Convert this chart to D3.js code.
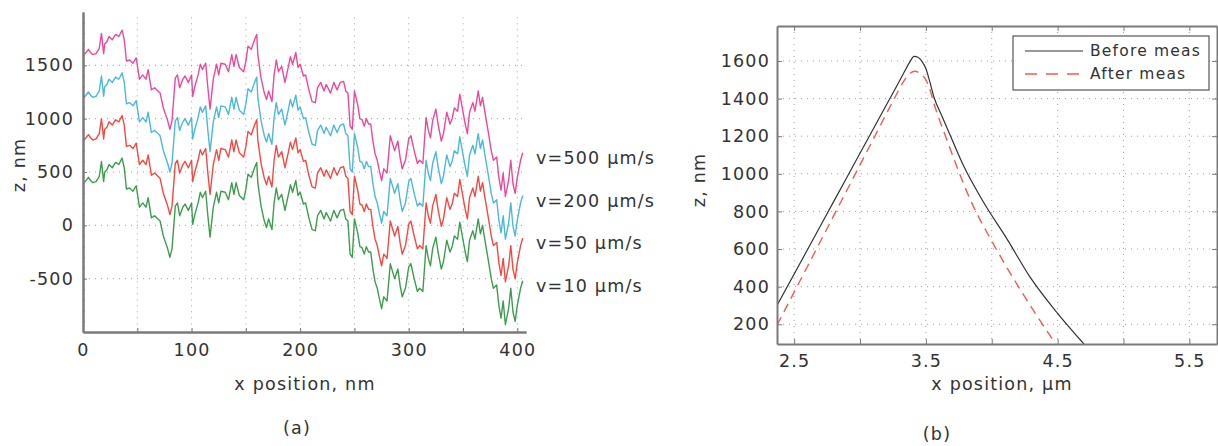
<!DOCTYPE html>
<html>
<head>
<meta charset="utf-8">
<script src="https://cdn.jsdelivr.net/npm/d3@7"></script>
<style>
  body { margin: 0; background: #fff; }
  text { font-family: "DejaVu Sans", sans-serif; fill: #333; letter-spacing: 1.2px; }
</style>
</head>
<body>
<div id="my_dataviz"></div>
<script>

// ---- panel (a): surface profiles, x in nm, z in nm ----
var xNm = [0,2,5,7,9,12,15,17,19,20,22,24,27,30,33,36,38,40,43,46,49,52,55,58,60,63,66,69,71,74,76,78,80,82,85,87,89,92,94,97,
  100,101,103,106,108,110,113,115,117,120,123,125,127,131,134,137,139,141,144,148,150,152,155,158,160,161,164,167,169,171,
  174,176,178,180,183,186,189,191,193,196,198,200,203,205,208,211,214,216,219,222,224,228,231,234,237,240,242,244,246,248,
  250,253,255,257,259,261,263,265,267,269,271,273,275,277,280,283,287,290,292,294,297,300,302,305,308,310,313,316,318,320,
  322,325,327,330,332,335,338,340,342,345,347,349,352,354,356,359,361,364,366,368,370,373,376,378,381,383,385,387,389,392,
  394,396,398,400,403,405];

var z500 = [1610,1610,1650,1620,1600,1610,1660,1800,1610,1700,1720,1770,1740,1790,1770,1830,1740,1540,1550,1520,
  1570,1370,1410,1370,1460,1270,1290,1260,1240,1100,1040,980,900,980,1380,1410,1290,1370,1400,1340,
  1410,1210,1300,1410,1510,1460,1520,1290,1090,1370,1510,1410,1520,1510,1440,1600,1490,1600,1480,1440,
  1540,1680,1650,1740,1790,1600,1380,1240,1180,1260,1160,1410,1550,1440,1490,1340,1480,1580,1510,1620,
  1480,1510,1400,1410,1270,1160,1150,1290,1340,1260,1320,1240,1340,1270,1340,1350,1260,1240,930,900,
  1260,1130,1000,990,930,1000,950,950,790,670,610,510,420,530,490,840,700,790,640,530,
  610,810,840,700,580,610,580,1010,890,820,980,1090,950,790,860,1060,950,1000,1100,1070,
  1230,1120,950,860,1060,1150,1070,1260,1120,1200,1070,890,700,610,640,450,330,490,270,420,
  610,390,300,450,610,680];

var z200 = [1210,1210,1250,1220,1200,1210,1260,1400,1210,1300,1320,1370,1340,1390,1370,1430,1340,1140,1150,1120,
  1170,970,1010,970,1060,870,890,860,840,700,640,580,500,580,980,1010,890,970,1000,940,
  1010,810,900,1010,1110,1060,1120,890,690,970,1110,1010,1120,1110,1040,1200,1090,1200,1080,1040,
  1140,1280,1250,1340,1390,1200,980,840,780,860,760,1010,1150,1040,1090,940,1080,1180,1110,1220,
  1080,1110,1000,1010,870,760,750,890,940,860,920,840,940,870,940,950,860,840,530,500,
  860,730,600,590,530,600,550,550,390,270,210,110,20,130,90,440,300,390,240,130,
  210,410,440,300,180,210,180,610,490,420,580,690,550,390,460,660,550,600,700,670,
  830,720,550,460,660,750,670,860,720,800,670,490,300,210,240,50,-70,90,-130,20,
  210,-10,-100,50,210,280];

var z50 = [810,810,850,820,800,810,860,1000,810,900,920,970,940,990,970,1030,940,740,750,720,
  770,570,610,570,660,470,490,460,440,300,240,180,100,180,580,610,490,570,600,540,
  610,410,500,610,710,660,720,490,290,570,710,610,720,710,640,800,690,800,680,640,
  740,880,850,940,990,800,580,440,380,460,360,610,750,640,690,540,680,780,710,820,
  680,710,600,610,470,360,350,490,540,460,520,440,540,470,540,550,460,440,130,100,
  460,330,200,190,130,200,150,150,-10,-130,-190,-290,-380,-270,-310,40,-100,-10,-160,-270,
  -190,10,40,-100,-220,-190,-220,210,90,20,180,290,150,-10,60,260,150,200,300,270,
  430,320,150,60,260,350,270,460,320,400,270,90,-100,-190,-160,-350,-470,-310,-530,-380,
  -190,-410,-500,-350,-190,-120];

var z10 = [410,410,450,420,400,410,460,600,410,500,520,570,540,590,570,630,540,340,350,320,
  370,170,210,170,260,70,90,60,40,-100,-160,-220,-300,-220,180,210,90,170,200,140,
  210,10,100,210,310,260,320,90,-110,170,310,210,320,310,240,400,290,400,280,240,
  340,480,450,540,590,400,180,40,-20,60,-40,210,350,240,290,140,280,380,310,420,
  280,310,200,210,70,-40,-50,90,140,60,120,40,140,70,140,150,60,40,-270,-300,
  60,-70,-200,-210,-270,-200,-250,-250,-410,-530,-590,-690,-780,-670,-710,-360,-500,-410,-560,-670,
  -590,-390,-360,-500,-620,-590,-620,-190,-310,-380,-220,-110,-250,-410,-340,-140,-250,-200,-100,-130,
  30,-80,-250,-340,-140,-50,-130,60,-80,0,-130,-310,-500,-590,-560,-750,-870,-710,-930,-780,
  -590,-810,-900,-750,-590,-520];

var speedLabels = ["v=500 \u00b5m/s", "v=200 \u00b5m/s", "v=50 \u00b5m/s", "v=10 \u00b5m/s"];
var speedColors = ["#ea4a9c", "#4cb8dc", "#f24a43", "#3d9d4f"];
var aYTicks = [-500, 0, 500, 1000, 1500];
var aXTicks = [0, 100, 200, 300, 400];

// ---- panel (b): tip profile before / after, x in um ----
var beforeX = [2.37, 2.6, 2.8, 3.0, 3.2, 3.32, 3.38, 3.41, 3.44, 3.47, 3.5, 3.53, 3.56, 3.62, 3.7, 3.79, 3.93, 4.12, 4.29, 4.5, 4.7];
var beforeZ = [300, 595, 852, 1109, 1366, 1520, 1597, 1625, 1620, 1598, 1560, 1490, 1411, 1310, 1180, 1037, 858, 649, 452, 258, 95];
var afterX = [2.37, 2.6, 2.86, 3.1, 3.25, 3.33, 3.38, 3.42, 3.46, 3.5, 3.53, 3.56, 3.66, 3.84, 4.01, 4.22, 4.48];
var afterZ = [195, 506, 858, 1183, 1386, 1490, 1535, 1545, 1530, 1500, 1450, 1377, 1180, 858, 630, 380, 100];
var bYTicks = [200, 400, 600, 800, 1000, 1200, 1400, 1600];
var bXTicks = [2.5, 3.5, 4.5, 5.5];
var bXGrid = [2.5, 3, 3.5, 4, 4.5, 5, 5.5];
var legendNames = ["Before meas", "After meas"];

var svg = d3.select("#my_dataviz")
  .append("svg")
  .attr("width", 1218)
  .attr("height", 446);

var gridColor = "#a0a0a0";
var axisColor = "#7a7a7a";
var plain = function(d) { return String(d); };

// ================= panel (a) =================
var xa = d3.scaleLinear().domain([0, 408]).range([83, 526]);
var ya = d3.scaleLinear().domain([-1000, 2000]).range([332, 12]);

var ga = svg.append("g");

// dotted grid
ga.selectAll(".vgrid")
  .data(d3.range(50, 401, 50))
  .enter().append("line")
  .attr("x1", d => xa(d)).attr("x2", d => xa(d))
  .attr("y1", ya(1950)).attr("y2", ya(-1000))
  .attr("stroke", gridColor).attr("stroke-dasharray", "1,5");

ga.selectAll(".hgrid")
  .data(aYTicks)
  .enter().append("line")
  .attr("x1", xa(0)).attr("x2", xa(408))
  .attr("y1", d => ya(d)).attr("y2", d => ya(d))
  .attr("stroke", gridColor).attr("stroke-dasharray", "1,5");

// profiles
var profiles = [z500, z200, z50, z10];
var lineA = d3.line()
  .x(function(d, i) { return xa(xNm[i]); })
  .y(function(d) { return ya(d); });

ga.selectAll(".profile")
  .data(profiles)
  .enter().append("path")
  .attr("d", d => lineA(d))
  .attr("fill", "none")
  .attr("stroke", (d, i) => speedColors[i])
  .attr("stroke-width", 1.4)
  .attr("stroke-linejoin", "round");

// series labels next to the line ends
ga.selectAll(".speed")
  .data(profiles)
  .enter().append("text")
  .attr("x", xa(408) + 10)
  .attr("y", d => ya(d[d.length - 1]) + 5)
  .attr("dy", "0.35em")
  .attr("font-size", "17.5px")
  .text((d, i) => speedLabels[i]);

// axes
ga.append("g")
  .attr("transform", "translate(" + xa(0) + ",0)")
  .call(d3.axisLeft(ya).tickValues(aYTicks).tickSize(-4).tickSizeOuter(0).tickPadding(9).tickFormat(plain));
ga.append("g")
  .attr("transform", "translate(" + xa(0) + ",0)")
  .call(d3.axisLeft(ya).tickValues(d3.range(-900, 2000, 100)).tickSize(-2).tickSizeOuter(0).tickFormat(""));

ga.append("g")
  .attr("transform", "translate(0," + ya(-1000) + ")")
  .call(d3.axisBottom(xa).tickValues(aXTicks).tickSize(-4).tickSizeOuter(0).tickPadding(12).tickFormat(plain));
ga.append("g")
  .attr("transform", "translate(0," + ya(-1000) + ")")
  .call(d3.axisBottom(xa).tickValues(d3.range(50, 401, 100)).tickSize(-4).tickSizeOuter(0).tickFormat(""));

ga.selectAll(".domain").attr("stroke", axisColor).attr("stroke-width", 2);
ga.selectAll(".tick line").attr("stroke", axisColor);
ga.selectAll(".tick text").attr("font-size", "17.5px").attr("fill", "#333");

ga.append("text")
  .attr("transform", "translate(25,165) rotate(-90)")
  .attr("text-anchor", "middle")
  .attr("font-size", "17.5px")
  .text("z, nm");

ga.append("text")
  .attr("x", 305).attr("y", 390)
  .attr("text-anchor", "middle")
  .attr("font-size", "17.5px")
  .text("x position, nm");

ga.append("text")
  .attr("x", 297).attr("y", 434)
  .attr("text-anchor", "middle")
  .attr("font-size", "17.5px")
  .text("(a)");

// ================= panel (b) =================
var xb = d3.scaleLinear().domain([2.37, 5.71]).range([777, 1217]);
var yb = d3.scaleLinear().domain([95, 1786]).range([344, 26]);

var gb = svg.append("g");

gb.append("clipPath").attr("id", "clipb")
  .append("rect")
  .attr("x", xb(2.37)).attr("y", yb(1786))
  .attr("width", xb(5.71) - xb(2.37)).attr("height", yb(95) - yb(1786));

gb.selectAll(".vgrid")
  .data(bXGrid)
  .enter().append("line")
  .attr("x1", d => xb(d)).attr("x2", d => xb(d))
  .attr("y1", yb(1786)).attr("y2", yb(95))
  .attr("stroke", gridColor).attr("stroke-dasharray", "1,5");

gb.selectAll(".hgrid")
  .data(bYTicks)
  .enter().append("line")
  .attr("x1", xb(2.37)).attr("x2", xb(5.71))
  .attr("y1", d => yb(d)).attr("y2", d => yb(d))
  .attr("stroke", gridColor).attr("stroke-dasharray", "1,5");

var lineB = d3.line()
  .x(d => xb(d[0]))
  .y(d => yb(d[1]))
  .curve(d3.curveMonotoneX);

gb.append("path")
  .datum(beforeX.map((x, i) => [x, beforeZ[i]]))
  .attr("d", lineB)
  .attr("clip-path", "url(#clipb)")
  .attr("fill", "none")
  .attr("stroke", "#333")
  .attr("stroke-width", 1.2);

gb.append("path")
  .datum(afterX.map((x, i) => [x, afterZ[i]]))
  .attr("d", lineB)
  .attr("clip-path", "url(#clipb)")
  .attr("fill", "none")
  .attr("stroke", "#f25a55")
  .attr("stroke-width", 1.4)
  .attr("stroke-dasharray", "9,6");

// box and inward ticks on all sides
gb.append("g")
  .attr("transform", "translate(" + xb(2.37) + ",0)")
  .call(d3.axisLeft(yb).tickValues(bYTicks).tickSize(-5).tickSizeOuter(0).tickPadding(7).tickFormat(plain));
gb.append("g")
  .attr("transform", "translate(" + xb(5.71) + ",0)")
  .call(d3.axisRight(yb).tickValues(bYTicks).tickSize(-5).tickSizeOuter(0).tickFormat(""));
gb.append("g")
  .attr("transform", "translate(0," + yb(95) + ")")
  .call(d3.axisBottom(xb).tickValues(bXGrid).tickSize(-5).tickSizeOuter(0)
    .tickFormat(d => bXTicks.indexOf(d) >= 0 ? d3.format(".1f")(d) : "").tickPadding(11));
gb.append("g")
  .attr("transform", "translate(0," + yb(1786) + ")")
  .call(d3.axisTop(xb).tickValues(bXGrid).tickSize(-5).tickSizeOuter(0).tickFormat(""));

gb.selectAll(".domain").attr("stroke", axisColor).attr("stroke-width", 2);
gb.selectAll(".tick line").attr("stroke", axisColor);
gb.selectAll(".tick text").attr("font-size", "17.5px").attr("fill", "#333");

// legend
var legend = gb.append("g").attr("transform", "translate(1013,36)");
legend.append("rect")
  .attr("width", 196).attr("height", 54)
  .attr("fill", "#fff").attr("stroke", "#555").attr("stroke-width", 1.2);
legend.selectAll(".leg")
  .data(legendNames)
  .enter().append("line")
  .attr("x1", 12).attr("x2", 70)
  .attr("y1", (d, i) => 15 + i * 23).attr("y2", (d, i) => 15 + i * 23)
  .attr("stroke", (d, i) => i == 0 ? "#333" : "#f25a55")
  .attr("stroke-width", (d, i) => i == 0 ? 1.2 : 1.4)
  .attr("stroke-dasharray", (d, i) => i == 0 ? null : "12,9");
legend.selectAll(".legtext")
  .data(legendNames)
  .enter().append("text")
  .attr("x", 77)
  .attr("y", (d, i) => 15 + i * 23)
  .attr("dy", "0.35em")
  .attr("font-size", "15.5px")
  .attr("letter-spacing", "1px")
  .text(d => d);

gb.append("text")
  .attr("transform", "translate(705,180) rotate(-90)")
  .attr("text-anchor", "middle")
  .attr("font-size", "17.5px")
  .text("z, nm");

gb.append("text")
  .attr("x", 1002).attr("y", 390)
  .attr("text-anchor", "middle")
  .attr("font-size", "17.5px")
  .text("x position, \u00b5m");

gb.append("text")
  .attr("x", 937).attr("y", 440)
  .attr("text-anchor", "middle")
  .attr("font-size", "17.5px")
  .text("(b)");

</script>
</body>
</html>
